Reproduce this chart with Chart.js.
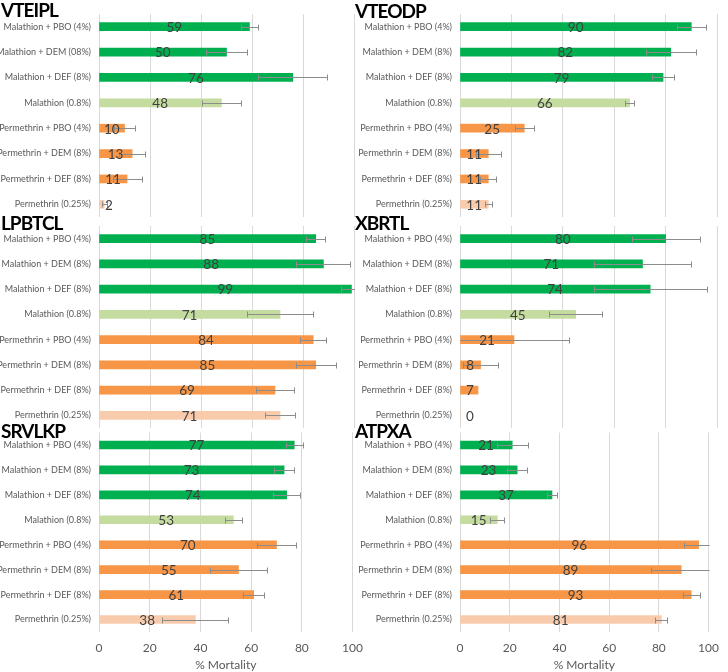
<!DOCTYPE html>
<html>
<head>
<meta charset="utf-8">
<script src="https://cdn.jsdelivr.net/npm/chart.js@4.4.1/dist/chart.umd.min.js"></script>
<style>
  body { margin: 0; background: #fff; width: 728px; height: 672px; position: relative; overflow: hidden; }
  .box { position: absolute; }
  .ttl { position: absolute; font: bold 19px Lato, sans-serif; line-height: 19px; letter-spacing: -1px; color: #000; }
</style>
</head>
<body>
<script>
// data (% mortality, mean and error bar half-width)
const panelNames = ['VTEIPL', 'VTEODP', 'LPBTCL', 'XBRTL', 'SRVLKP', 'ATPXA'];
const treatments = ['Malathion + PBO (4%)', 'Malathion + DEM (8%)', 'Malathion + DEF (8%)', 'Malathion (0.8%)',
    'Permethrin + PBO (4%)', 'Permethrin + DEM (8%)', 'Permethrin + DEF (8%)', 'Permethrin (0.25%)'];
const treatmentsVTEIPL = ['Malathion + PBO (4%)', 'Malathion + DEM (08%)', 'Malathion + DEF (8%)', 'Malathion (0.8%)',
    'Permethrin + PBO (4%)', 'Permethrin + DEM (8%)', 'Permethrin + DEF (8%)', 'Permethrin (0.25%)'];
const xTicks = [0, 20, 40, 60, 80, 100];

const mortVTEIPL = [59, 50, 76, 48, 10, 13, 11, 2];
const errVTEIPL  = [3.3, 8, 13.6, 7.6, 4, 5, 5.7, 1];
const mortVTEODP = [90, 82, 79, 66, 25, 11, 11, 11];
const errVTEODP  = [5.6, 9.8, 4.2, 1.7, 3.6, 4.8, 3.2, 1.4];
const mortLPBTCL = [85, 88, 99, 71, 84, 85, 69, 71];
const errLPBTCL  = [3.7, 10.6, 4, 13, 5.2, 7.9, 7.4, 5.8];
const mortXBRTL  = [80, 71, 74, 45, 21, 8, 7, 0];
const errXBRTL   = [13.2, 19, 22, 10.2, 21.5, 6.7, 0, 0];
const mortSRVLKP = [77, 73, 74, 53, 70, 55, 61, 38];
const errSRVLKP  = [3.4, 4.1, 5.2, 3.5, 7.6, 11.4, 4.1, 13];
const mortATPXA  = [21, 23, 37, 15, 96, 89, 93, 81];
const errATPXA   = [6.2, 4, 2, 2.8, 6, 12, 3.4, 2.4];

const barColors = ['#00B050', '#00B050', '#00B050', '#C5DCA0', '#F79646', '#F79646', '#F79646', '#F8CBAD'];

const panels = [
    { name: panelNames[0], labels: treatmentsVTEIPL, values: mortVTEIPL, errors: errVTEIPL },
    { name: panelNames[1], labels: treatments, values: mortVTEODP, errors: errVTEODP },
    { name: panelNames[2], labels: treatments, values: mortLPBTCL, errors: errLPBTCL },
    { name: panelNames[3], labels: treatments, values: mortXBRTL, errors: errXBRTL },
    { name: panelNames[4], labels: treatments, values: mortSRVLKP, errors: errSRVLKP },
    { name: panelNames[5], labels: treatments, values: mortATPXA, errors: errATPXA }
];

// where each chart sits on the page
const boxes = [
    { left: 0,   top: 0,   w: 372, h: 217, pt: 14,   yw: 99,  pr: 18, axis: false, tx: 1,   ty: 0 },
    { left: 350, top: 0,   w: 378, h: 217, pt: 14,   yw: 110, pr: 11, axis: false, tx: 355, ty: 1 },
    { left: 0,   top: 214, w: 372, h: 214, pt: 12,   yw: 99,  pr: 18, axis: false, tx: 1,   ty: 213 },
    { left: 350, top: 214, w: 378, h: 214, pt: 12,   yw: 110, pr: 11, axis: false, tx: 355, ty: 213 },
    { left: 0,   top: 420, w: 372, h: 252, pt: 12.5, yw: 99,  pr: 18, axis: true,  tx: 1,   ty: 421 },
    { left: 350, top: 420, w: 378, h: 252, pt: 12.5, yw: 110, pr: 11, axis: true,  tx: 355, ty: 421 }
];

// error bars and value labels
const barExtras = {
    id: 'barExtras',
    afterDatasetsDraw(chart) {
        const ctx = chart.ctx;
        const xs = chart.scales.x;
        const area = chart.chartArea;
        const ds = chart.data.datasets[0];
        const bars = chart.getDatasetMeta(0).data;

        ctx.save();
        ctx.beginPath();
        ctx.rect(area.left, area.top - 5, area.width + 1, area.height + 10);
        ctx.clip();
        ctx.strokeStyle = '#8C8C8C';
        ctx.lineWidth = 1;
        bars.forEach((bar, i) => {
            const e = ds.errors[i];
            if (!e) return;
            const v = ds.data[i];
            const lo = Math.round(xs.getPixelForValue(v - e)) + 0.5;
            const hi = Math.round(xs.getPixelForValue(v + e)) + 0.5;
            const y = Math.round(bar.y) + 0.5;
            ctx.beginPath();
            ctx.moveTo(lo, y); ctx.lineTo(hi, y);
            ctx.moveTo(lo, y - 3); ctx.lineTo(lo, y + 3);
            ctx.moveTo(hi, y - 3); ctx.lineTo(hi, y + 3);
            ctx.stroke();
        });
        ctx.restore();

        ctx.save();
        ctx.fillStyle = '#404040';
        ctx.font = '13.5px Lato, sans-serif';
        ctx.textAlign = 'center';
        ctx.textBaseline = 'middle';
        const x0 = xs.getPixelForValue(0);
        bars.forEach((bar, i) => {
            const cx = Math.max((x0 + bar.x) / 2, x0 + 10);
            ctx.fillText(String(ds.data[i]), cx, bar.y + 1);
        });
        ctx.restore();
    }
};

panels.forEach((p, k) => {
    const b = boxes[k];
    const div = document.createElement('div');
    div.className = 'box';
    div.style.left = b.left + 'px';
    div.style.top = b.top + 'px';
    const cv = document.createElement('canvas');
    cv.width = b.w;
    cv.height = b.h;
    div.appendChild(cv);
    document.body.appendChild(div);

    new Chart(cv.getContext('2d'), {
        type: 'bar',
        data: {
            labels: p.labels,
            datasets: [{
                data: p.values,
                errors: p.errors,
                backgroundColor: barColors,
                barThickness: 8
            }]
        },
        options: {
            indexAxis: 'y',
            responsive: false,
            animation: false,
            layout: { padding: { top: b.pt, right: b.pr, left: 0, bottom: 0 } },
            plugins: { legend: { display: false }, tooltip: { enabled: false } },
            scales: {
                x: {
                    min: 0,
                    max: 100,
                    afterBuildTicks: (s) => { s.ticks = xTicks.map(v => ({ value: v })); },
                    grid: { color: '#D9D9D9', drawTicks: false },
                    border: { display: false },
                    ticks: {
                        display: b.axis,
                        padding: 9,
                        color: '#595959',
                        font: { family: 'Lato', size: 12 }
                    },
                    title: {
                        display: b.axis,
                        text: '% Mortality',
                        color: '#595959',
                        font: { family: 'Lato', size: 12 },
                        padding: { top: 0, bottom: 0 }
                    },
                    afterFit: (s) => { s.height = b.axis ? 40 : 0; }
                },
                y: {
                    grid: { display: false, drawTicks: false },
                    border: { display: false },
                    ticks: {
                        autoSkip: false,
                        padding: 8,
                        color: '#595959',
                        font: { family: 'Lato', size: 9 }
                    },
                    afterFit: (s) => {
                        s.width = b.yw;
                        s.paddingTop = 0;
                        s.paddingBottom = 0;
                    }
                }
            }
        },
        plugins: [barExtras]
    });

    const t = document.createElement('div');
    t.className = 'ttl';
    t.style.left = b.tx + 'px';
    t.style.top = b.ty + 'px';
    t.textContent = p.name;
    document.body.appendChild(t);
});
</script>
</body>
</html>
